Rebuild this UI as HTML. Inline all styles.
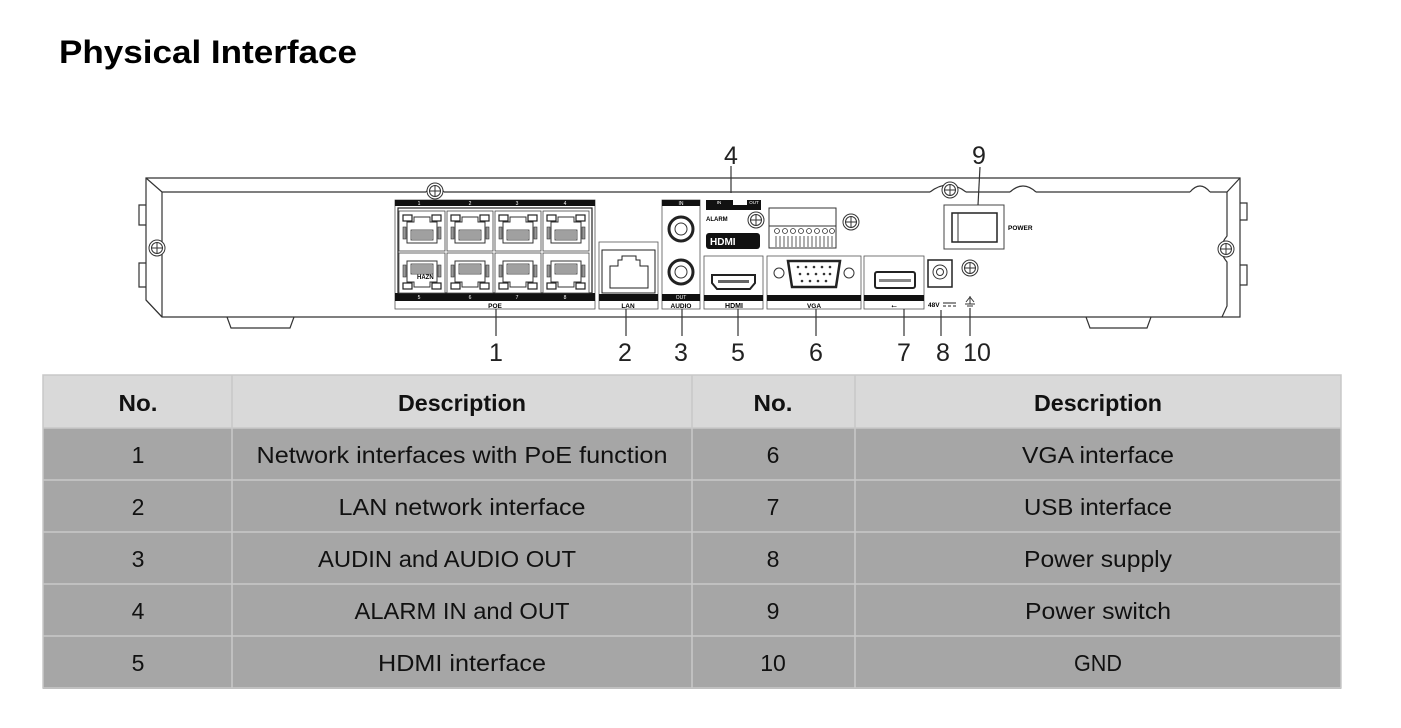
<!DOCTYPE html>
<html><head><meta charset="utf-8"><style>
html,body{margin:0;padding:0;background:#fff;}
svg{display:block;}
</style></head><body>
<svg width="1401" height="728" viewBox="0 0 1401 728" xmlns="http://www.w3.org/2000/svg" font-family="Liberation Sans, sans-serif">
<defs>
  <g id="screw"><circle r="8" fill="#fff" stroke="#333" stroke-width="1"/><circle r="5.5" fill="none" stroke="#333" stroke-width="1"/><line x1="-5" y1="0" x2="5" y2="0" stroke="#333"/><line x1="0" y1="-5" x2="0" y2="5" stroke="#333"/></g>
  <g id="rj">
    <rect x="0" y="0" width="46" height="40" fill="#fff" stroke="#444" stroke-width="0.8"/>
    <rect x="4" y="4" width="9" height="6" fill="#fff" stroke="#222" stroke-width="1.2"/>
    <rect x="33" y="4" width="9" height="6" fill="#fff" stroke="#222" stroke-width="1.2"/>
    <path d="M15 6 H31 V11 H38 V32 H8 V11 H15 Z" fill="#fff" stroke="#333" stroke-width="1"/>
    <rect x="4" y="16" width="3" height="12" fill="#999" stroke="#333" stroke-width="0.6"/>
    <rect x="39" y="16" width="3" height="12" fill="#999" stroke="#333" stroke-width="0.6"/>
    <rect x="12" y="19" width="22" height="10" fill="#ddd" stroke="#333" stroke-width="0.8"/>
    <path d="M14 20v8M16 20v8M18 20v8M20 20v8M22 20v8M24 20v8M26 20v8M28 20v8M30 20v8M32 20v8" stroke="#444" stroke-width="0.8"/>
  </g>
</defs>

<text x="59" y="63" font-size="32" font-weight="bold" fill="#000" textLength="298" lengthAdjust="spacingAndGlyphs">Physical Interface</text>

<!-- chassis -->
<g fill="none" stroke="#333" stroke-width="1.2">
  <path d="M146 178 H1240 V317 H162 L146 300 Z" fill="#fff"/>
  <path d="M146 178 L162 192 H426 M444 192 H930 M966 192 H1010 M1036 192 H1190 M1210 192 H1227 L1240 178"/>
  <path d="M426 192 Q435 180 444 192 M930 192 Q948 178 966 192 M1010 192 Q1023 180 1036 192 M1190 192 Q1200 180 1210 192"/>
  <line x1="162" y1="192" x2="162" y2="317"/>
  <path d="M1227 192 V236 Q1216 249 1227 262 V306 L1222 317"/>
  <path d="M146 300 L162 317"/>
  <path d="M146 205 H139 V225 H146 M146 263 H139 V287 H146"/>
  <path d="M1240 203 H1247 V220 H1240 M1240 265 H1247 V285 H1240"/>
  <path d="M227 317 L231 328 H290 L294 317"/>
  <path d="M1086 317 L1090 328 H1147 L1151 317"/>
</g>
<use href="#screw" x="157" y="248"/>
<use href="#screw" x="435" y="191"/>
<use href="#screw" x="1226" y="249"/>
<use href="#screw" x="950" y="190"/>
<use href="#screw" x="970" y="268"/>
<use href="#screw" x="756" y="220"/>
<use href="#screw" x="851" y="222"/>

<!-- POE -->
<rect x="395" y="200" width="200" height="109" fill="#fff" stroke="#555" stroke-width="0.8"/>
<rect x="395" y="200" width="200" height="6" fill="#111"/>
<rect x="395" y="293" width="200" height="8" fill="#111"/>
<g font-size="5" fill="#fff" text-anchor="middle"><text x="419" y="205">1</text><text x="470" y="205">2</text><text x="517" y="205">3</text><text x="565" y="205">4</text><text x="419" y="299">5</text><text x="470" y="299">6</text><text x="517" y="299">7</text><text x="565" y="299">8</text></g>
<text x="495" y="308" font-size="6.5" font-weight="bold" text-anchor="middle">POE</text>
<rect x="398" y="208" width="194" height="85" fill="#fff" stroke="#222" stroke-width="1.2"/>
<use href="#rj" x="399" y="211"/><use href="#rj" x="447" y="211"/><use href="#rj" x="495" y="211"/><use href="#rj" x="543" y="211"/>
<g transform="translate(0,504) scale(1,-1)"><use href="#rj" x="399" y="211"/><use href="#rj" x="447" y="211"/><use href="#rj" x="495" y="211"/><use href="#rj" x="543" y="211"/></g>
<text x="417" y="279" font-size="6" font-weight="bold">HAZN</text>

<!-- LAN -->
<rect x="599" y="242" width="59" height="67" fill="#fff" stroke="#555" stroke-width="0.8"/>
<rect x="602" y="250" width="53" height="43" fill="#fff" stroke="#222" stroke-width="1"/>
<path d="M610 288 V266 H618 V260 H622 V256 H636 V260 H640 V266 H648 V288 Z" fill="none" stroke="#222" stroke-width="1"/>
<rect x="599" y="294" width="59" height="7" fill="#111"/>
<text x="628" y="308" font-size="6.5" font-weight="bold" text-anchor="middle">LAN</text>

<!-- AUDIO -->
<rect x="662" y="200" width="38" height="109" fill="#fff" stroke="#555" stroke-width="0.8"/>
<rect x="662" y="200" width="38" height="6" fill="#111"/>
<text x="681" y="205" font-size="5" fill="#fff" text-anchor="middle">IN</text>
<circle cx="681" cy="229" r="12" fill="#fff" stroke="#222" stroke-width="3"/><circle cx="681" cy="229" r="6" fill="#fff" stroke="#333"/>
<circle cx="681" cy="272" r="12" fill="#fff" stroke="#222" stroke-width="3"/><circle cx="681" cy="272" r="6" fill="#fff" stroke="#333"/>
<rect x="662" y="294" width="38" height="7" fill="#111"/>
<text x="681" y="299" font-size="5" fill="#fff" text-anchor="middle">OUT</text>
<text x="681" y="308" font-size="6.5" font-weight="bold" text-anchor="middle">AUDIO</text>

<!-- ALARM -->
<rect x="706" y="200" width="27" height="5" fill="#111"/><rect x="747" y="200" width="14" height="5" fill="#111"/>
<rect x="706" y="205" width="55" height="5" fill="#111"/>
<g font-size="4.5" text-anchor="middle"><text x="719" y="204" fill="#fff">IN</text><text x="754" y="204" fill="#fff">OUT</text></g>
<text x="706" y="221" font-size="6" font-weight="bold">ALARM</text>
<rect x="706" y="233" width="54" height="16" rx="3" fill="#111"/>
<text x="710" y="245" font-size="10" font-weight="bold" fill="#fff">HDMI</text>
<rect x="769" y="208" width="67" height="40" fill="#fff" stroke="#333"/>
<line x1="769" y1="226" x2="836" y2="226" stroke="#333"/>
<g fill="none" stroke="#333" stroke-width="0.8"><circle cx="777" cy="231" r="2.5"/><circle cx="785" cy="231" r="2.5"/><circle cx="793" cy="231" r="2.5"/><circle cx="801" cy="231" r="2.5"/><circle cx="809" cy="231" r="2.5"/><circle cx="817" cy="231" r="2.5"/><circle cx="825" cy="231" r="2.5"/><circle cx="832" cy="231" r="2.5"/></g>
<path d="M776 236v11M780 236v11M784 236v11M788 236v11M792 236v11M796 236v11M800 236v11M804 236v11M808 236v11M812 236v11M816 236v11M820 236v11M824 236v11M828 236v11M832 236v11" stroke="#333" stroke-width="0.8"/>

<!-- HDMI -->
<rect x="704" y="256" width="59" height="53" fill="#fff" stroke="#555" stroke-width="0.8"/>
<path d="M712 275 H755 V283 L750 289 H717 L712 283 Z" fill="#fff" stroke="#222" stroke-width="2"/>
<rect x="718" y="280" width="31" height="3" fill="#666"/>
<rect x="704" y="295" width="59" height="6" fill="#111"/>
<text x="734" y="308" font-size="7" font-weight="bold" text-anchor="middle">HDMI</text>

<!-- VGA -->
<rect x="767" y="256" width="94" height="53" fill="#fff" stroke="#555" stroke-width="0.8"/>
<circle cx="779" cy="273" r="5" fill="#fff" stroke="#333"/><circle cx="849" cy="273" r="5" fill="#fff" stroke="#333"/>
<path d="M788 261 H840 L836 287 H792 Z" fill="#fff" stroke="#222" stroke-width="2.5"/>
<g fill="#333"><circle cx="798" cy="267" r="1.3"/><circle cx="806" cy="267" r="1.3"/><circle cx="814" cy="267" r="1.3"/><circle cx="822" cy="267" r="1.3"/><circle cx="830" cy="267" r="1.3"/><circle cx="800" cy="274" r="1.3"/><circle cx="808" cy="274" r="1.3"/><circle cx="816" cy="274" r="1.3"/><circle cx="824" cy="274" r="1.3"/><circle cx="830" cy="274" r="1.3"/><circle cx="802" cy="281" r="1.3"/><circle cx="810" cy="281" r="1.3"/><circle cx="818" cy="281" r="1.3"/><circle cx="826" cy="281" r="1.3"/></g>
<rect x="767" y="295" width="94" height="6" fill="#111"/>
<text x="814" y="308" font-size="6.5" font-weight="bold" text-anchor="middle">VGA</text>

<!-- USB -->
<rect x="864" y="256" width="60" height="53" fill="#fff" stroke="#555" stroke-width="0.8"/>
<rect x="875" y="272" width="40" height="16" rx="2" fill="#fff" stroke="#222" stroke-width="2"/>
<rect x="879" y="279" width="32" height="3" fill="#888"/>
<rect x="864" y="295" width="60" height="6" fill="#111"/>
<text x="894" y="308" font-size="7" text-anchor="middle">⭠</text>

<!-- power jack -->
<rect x="928" y="260" width="24" height="27" fill="#fff" stroke="#222" stroke-width="1.5"/>
<circle cx="940" cy="272" r="7" fill="#fff" stroke="#333"/><circle cx="940" cy="272" r="3.5" fill="#fff" stroke="#333"/>
<text x="928" y="307" font-size="6.5" font-weight="bold">48V</text>
<path d="M943 303 h13 M943 306 h3 M948 306 h3 M953 306 h3" stroke="#222"/>
<path d="M970 296 v8 M965 304 h10 M967 306 h6" stroke="#333" fill="none"/><path d="M966 302 L970 297 L974 302" stroke="#333" fill="none"/>

<!-- power switch -->
<rect x="944" y="205" width="60" height="44" fill="#fff" stroke="#444"/>
<rect x="952" y="213" width="45" height="29" fill="#fff" stroke="#222" stroke-width="1.5"/>
<line x1="958" y1="213" x2="958" y2="242" stroke="#333"/>
<text x="1008" y="230" font-size="6.5" font-weight="bold">POWER</text>

<!-- leader lines & numbers -->
<g stroke="#333" stroke-width="1.2">
  <line x1="496" y1="309" x2="496" y2="336"/><line x1="626" y1="309" x2="626" y2="336"/>
  <line x1="682" y1="309" x2="682" y2="336"/><line x1="738" y1="309" x2="738" y2="336"/>
  <line x1="816" y1="309" x2="816" y2="336"/><line x1="904" y1="309" x2="904" y2="336"/>
  <line x1="941" y1="310" x2="941" y2="336"/><line x1="970" y1="308" x2="970" y2="336"/>
  <line x1="731" y1="166" x2="731" y2="193"/><line x1="980" y1="167" x2="978" y2="205"/>
</g>
<g font-size="25" fill="#222" text-anchor="middle">
  <text x="496" y="361">1</text><text x="625" y="361">2</text><text x="681" y="361">3</text>
  <text x="738" y="361">5</text><text x="816" y="361">6</text><text x="904" y="361">7</text>
  <text x="943" y="361">8</text><text x="977" y="361">10</text>
  <text x="731" y="164">4</text><text x="979" y="164">9</text>
</g>

<!-- table -->
<rect x="43" y="375" width="1298" height="53" fill="#d9d9d9"/>
<rect x="43" y="428" width="1298" height="261" fill="#a6a6a6"/>
<g stroke="#c8c8c8" stroke-width="1.5" fill="none">
  <rect x="43" y="375" width="1298" height="313"/>
  <line x1="43" y1="428" x2="1341" y2="428"/><line x1="43" y1="480" x2="1341" y2="480"/>
  <line x1="43" y1="532" x2="1341" y2="532"/><line x1="43" y1="584" x2="1341" y2="584"/>
  <line x1="43" y1="636" x2="1341" y2="636"/>
  <line x1="232" y1="375" x2="232" y2="688"/><line x1="692" y1="375" x2="692" y2="688"/>
  <line x1="855" y1="375" x2="855" y2="688"/>
</g>
<g font-size="23" fill="#111" text-anchor="middle">
  <g font-weight="bold">
    <text x="138" y="411" textLength="39" lengthAdjust="spacingAndGlyphs">No.</text>
    <text x="462" y="411" textLength="128" lengthAdjust="spacingAndGlyphs">Description</text>
    <text x="773" y="411" textLength="39" lengthAdjust="spacingAndGlyphs">No.</text>
    <text x="1098" y="411" textLength="128" lengthAdjust="spacingAndGlyphs">Description</text>
  </g>
  <text x="138" y="463">1</text><text x="138" y="515">2</text><text x="138" y="567">3</text><text x="138" y="619">4</text><text x="138" y="671">5</text>
  <text x="773" y="463">6</text><text x="773" y="515">7</text><text x="773" y="567">8</text><text x="773" y="619">9</text><text x="773" y="671">10</text>
  <text x="462" y="463" textLength="411" lengthAdjust="spacingAndGlyphs">Network interfaces with PoE function</text>
  <text x="462" y="515" textLength="247" lengthAdjust="spacingAndGlyphs">LAN network interface</text>
  <text x="447" y="567" textLength="258" lengthAdjust="spacingAndGlyphs">AUDIN and AUDIO OUT</text>
  <text x="462" y="619" textLength="215" lengthAdjust="spacingAndGlyphs">ALARM IN and OUT</text>
  <text x="462" y="671" textLength="168" lengthAdjust="spacingAndGlyphs">HDMI interface</text>
  <text x="1098" y="463" textLength="152" lengthAdjust="spacingAndGlyphs">VGA interface</text>
  <text x="1098" y="515" textLength="148" lengthAdjust="spacingAndGlyphs">USB interface</text>
  <text x="1098" y="567" textLength="148" lengthAdjust="spacingAndGlyphs">Power supply</text>
  <text x="1098" y="619" textLength="146" lengthAdjust="spacingAndGlyphs">Power switch</text>
  <text x="1098" y="671" textLength="48" lengthAdjust="spacingAndGlyphs">GND</text>
</g>
</svg>
</body></html>
